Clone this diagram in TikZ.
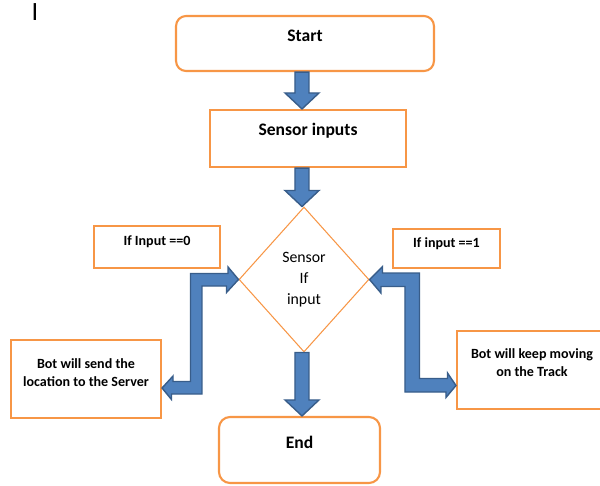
\documentclass[tikz,border=0pt]{standalone}
\usepackage{fontspec}
\setmainfont{Carlito}
\usetikzlibrary{shapes.geometric,calc}

\definecolor{boxorange}{HTML}{F79646}
\definecolor{arrowblue}{HTML}{4F81BD}
\definecolor{arrowedge}{HTML}{385D8A}

\tikzset{
  flowbox/.style={draw=boxorange, line width=1.2pt, fill=white},
  termbox/.style={flowbox, rounded corners=0.2cm},
  bigtxt/.style={font=\bfseries\fontsize{10}{12}\selectfont},
  smalltxt/.style={font=\bfseries\fontsize{8}{10.2}\selectfont, align=center},
  blockarrow/.style={fill=arrowblue, draw=arrowedge, line width=0.8pt, line join=miter},
}

% straight block arrow pointing down
\newcommand{\downblock}[2]{%
  \filldraw[blockarrow] ($(#1)+(-7,0)$) -- ($(#2)+(-7,-16)$) -- ++(-10,0) -- (#2)
    -- ++(17,-16) -- ++(-10,0) -- ($(#1)+(7,0)$) -- cycle;}

\begin{document}
\begin{tikzpicture}[x=0.02cm,y=-0.02cm]
    \useasboundingbox (0,0) rectangle (600,485);

    \node[font=\fontsize{15}{18}\selectfont, inner sep=0pt] (cursor) at (35,12.5) {I};

    \node[termbox, minimum width=5.16cm, minimum height=1.1cm, label={[bigtxt,yshift=.15cm]center:Start}] (start) at (305,43.5) {};
    \node[flowbox, minimum width=3.92cm, minimum height=1.14cm, label={[bigtxt,yshift=.15cm]center:Sensor inputs}] (inputs) at (308,138.5) {};
    \node[diamond, draw=boxorange, line width=0.6pt, minimum width=2.6cm, minimum height=2.9cm, inner sep=0pt, align=center, font=\fontsize{9}{11.9}\selectfont] (sensorif) at (304,279.5) {Sensor\\If\\input};
    \node[flowbox, minimum width=2.52cm, minimum height=0.84cm, label={[smalltxt,yshift=.1cm]center:If Input ==0}] (ifzero) at (157,247) {};
    \node[flowbox, minimum width=2.14cm, minimum height=0.78cm, label={[smalltxt,yshift=.09cm]center:If input ==1}] (ifone) at (446.5,248.5) {};
    \node[flowbox, minimum width=3cm, minimum height=1.56cm, label={[smalltxt,yshift=.12cm]center:Bot will send the\\location to the Server}] (send) at (86,379) {};
    \node[flowbox, minimum width=3cm, minimum height=1.56cm, label={[smalltxt,yshift=.14cm]center:Bot will keep moving\\on the Track}] (keep) at (532,370) {};
    \node[termbox, rounded corners=0.22cm, minimum width=3.22cm, minimum height=1.32cm, label={[bigtxt,yshift=.15cm]center:End}] (finish) at (299.5,450) {};

    \coordinate (spine) at (302,0);
    \downblock{start.south -| spine}{inputs.north -| spine}
    \downblock{inputs.south -| spine}{sensorif.north -| spine}
    \downblock{sensorif.south -| spine}{finish.north -| spine}

    % bent double arrows
    \filldraw[blockarrow] (sensorif.west) -- ++(-12,13) -- ++(0,-6.5) -- ++(-24.5,0) -- ++(0,108)
        -- ++(-30.5,0) -- ++(0,5.5) -- ($(send.east)+(0,9)$) -- ++(11,-12) -- ++(0,5.5)
        -- ++(17.5,0) -- ++(0,-108) -- ++(37.5,0) -- ++(0,-6.5) -- cycle;
    \filldraw[blockarrow] (sensorif.east) -- ++(13,-13) -- ++(0,6.5) -- ++(37,0) -- ++(0,105.5)
        -- ++(28,0) -- ++(0,-5.5) -- ($(keep.west)+(0,15.5)$) -- ++(-10,12) -- ++(0,-5.5)
        -- ++(-41,0) -- ++(0,-105.5) -- ++(-24,0) -- ++(0,6.5) -- cycle;
\end{tikzpicture}
\end{document}
